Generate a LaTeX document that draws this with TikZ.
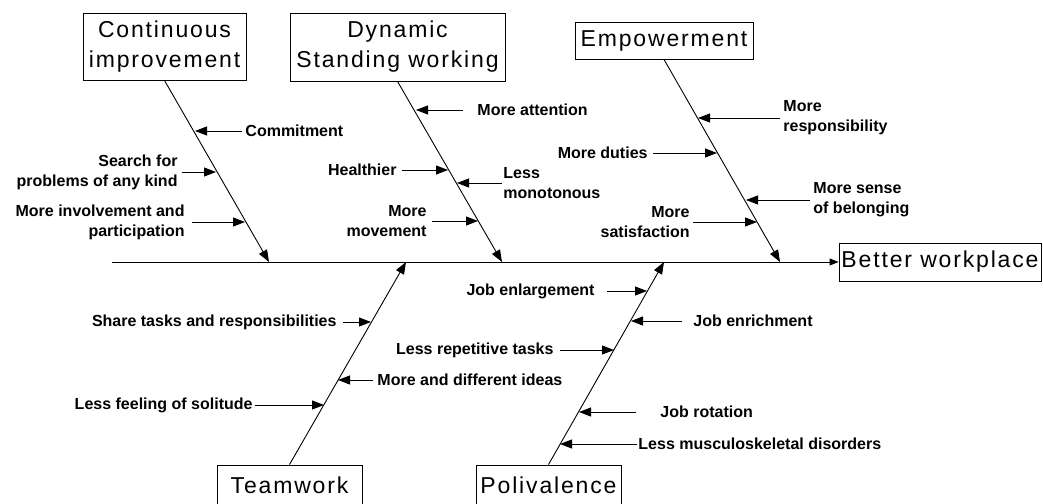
\documentclass[tikz,border=0pt]{standalone}
\usepackage{fontspec}
\setmainfont{Liberation Sans}
\newfontfamily\headfont[LetterSpace=8]{Liberation Sans}
\usetikzlibrary{arrows.meta}

\begin{document}
\begin{tikzpicture}[
		x=1pt, y=-1pt,
		line width=0.9pt,
		head/.style = {draw, inner sep=0pt, align=center, font=\headfont\fontsize{23}{30}\selectfont},
		cause/.style = {inner sep=0pt, font=\bfseries\fontsize{16}{20}\selectfont},
		bone/.style = {-{Triangle[length=12pt,width=9pt]}},
		feed/.style = {-{Triangle[length=12pt,width=9pt]}}
	]
	\useasboundingbox (0,0) rectangle (1043,503);
	% heads
	\node[head, minimum width=163pt, minimum height=67pt] (ci) at (164.5,46.5) {Continuous\\improvement};
	\node[head, minimum width=215pt, minimum height=68pt] (ds) at (397.5,47) {Dynamic\\Standing working};
	\node[head, minimum width=178pt, minimum height=37pt] (em) at (664,40.5) {Empowerment};
	\node[head, minimum width=145pt, minimum height=40pt] (tw) at (289.5,485) {Teamwork};
	\node[head, minimum width=145pt, minimum height=40pt] (pv) at (548.5,485) {Polivalence};
	\node[head, minimum width=202pt, minimum height=38pt] (bw) at (940,262) {Better workplace};
	% spine and bones
	\coordinate (sp) at (112,262);
	\coordinate (s1) at (269,262);
	\coordinate (s2) at (502,262);
	\coordinate (s3) at (780,262);
	\coordinate (s4) at (406,262);
	\coordinate (s5) at (664,262);
	\draw[-{Triangle[length=9pt,width=7pt]}] (sp) -- (bw.west);
	\draw[bone] (ci.south) -- (s1);
	\draw[bone] (ds.south) -- (s2);
	\draw[bone] (em.south) -- (s3);
	\draw[bone] (tw.north) -- (s4);
	\draw[bone] (pv.north) -- (s5);
	% continuous improvement
	\node[cause, anchor=west] (cmt) at (245,131) {Commitment};
	\node[cause, anchor=east, align=right] (srch) at (178,172) {Search for\\problems of any kind};
	\node[cause, anchor=east, align=right] (invl) at (185,222) {More involvement and\\participation};
	\coordinate (t1) at (195,131);
	\coordinate (t2) at (216,172);
	\coordinate (t3) at (245,222);
	\draw[feed, shorten <=3pt] (cmt.west) -- (t1);
	\draw[feed, shorten <=4pt] (srch.east) -- (t2);
	\draw[feed, shorten <=7pt] (invl.east) -- (t3);
	% dynamic standing working
	\node[cause, anchor=west] (attn) at (477,110) {More attention};
	\node[cause, anchor=east] (heal) at (397,170) {Healthier};
	\node[cause, anchor=west, align=left] (mono) at (503,183) {Less\\monotonous};
	\node[cause, anchor=east, align=right] (move) at (427,221) {More\\movement};
	\coordinate (t4) at (416,110);
	\coordinate (t5) at (448,170);
	\coordinate (t6) at (457,183);
	\coordinate (t7) at (478,221);
	\draw[feed, shorten <=14pt] (attn.west) -- (t4);
	\draw[feed, shorten <=5pt] (heal.east) -- (t5);
	\draw[feed, shorten <=1pt] (mono.west) -- (t6);
	\draw[feed, shorten <=5pt] (move.east) -- (t7);
	% empowerment
	\node[cause, anchor=west, align=left] (resp) at (783,118) {More\\responsibility};
	\node[cause, anchor=east] (duty) at (648,153) {More duties};
	\node[cause, anchor=west, align=left] (belg) at (813,200) {More sense\\of belonging};
	\node[cause, anchor=east, align=right] (sats) at (690,222) {More\\satisfaction};
	\coordinate (t8) at (698,118);
	\coordinate (t9) at (717,153);
	\coordinate (t10) at (746,200);
	\coordinate (t11) at (757,222);
	\draw[feed, shorten <=3pt] (resp.west) -- (t8);
	\draw[feed, shorten <=5pt] (duty.east) -- (t9);
	\draw[feed, shorten <=3pt] (belg.west) -- (t10);
	\draw[feed, shorten <=3pt] (sats.east) -- (t11);
	% teamwork
	\node[cause, anchor=east] (shar) at (337,322) {Share tasks and responsibilities};
	\node[cause, anchor=west] (idea) at (377,380) {More and different ideas};
	\node[cause, anchor=east] (soli) at (253,405) {Less feeling of solitude};
	\coordinate (t12) at (371,322);
	\coordinate (t13) at (338,380);
	\coordinate (t14) at (324,405);
	\draw[feed, shorten <=6pt] (shar.east) -- (t12);
	\draw[feed, shorten <=4pt] (idea.west) -- (t13);
	\draw[feed, shorten <=2pt] (soli.east) -- (t14);
	% polivalence
	\node[cause, anchor=east] (enlg) at (595,291) {Job enlargement};
	\node[cause, anchor=west] (enrc) at (693,321) {Job enrichment};
	\node[cause, anchor=east] (repe) at (554,350) {Less repetitive tasks};
	\node[cause, anchor=west] (rota) at (660,412) {Job rotation};
	\node[cause, anchor=west] (musc) at (638,444) {Less musculoskeletal disorders};
	\coordinate (t15) at (647,291);
	\coordinate (t16) at (631,321);
	\coordinate (t17) at (614,350);
	\coordinate (t18) at (579,412);
	\coordinate (t19) at (560,444);
	\draw[feed, shorten <=12pt] (enlg.east) -- (t15);
	\draw[feed, shorten <=11pt] (enrc.west) -- (t16);
	\draw[feed, shorten <=6pt] (repe.east) -- (t17);
	\draw[feed, shorten <=24pt] (rota.west) -- (t18);
	\draw[feed, shorten <=1pt] (musc.west) -- (t19);
\end{tikzpicture}
\end{document}
